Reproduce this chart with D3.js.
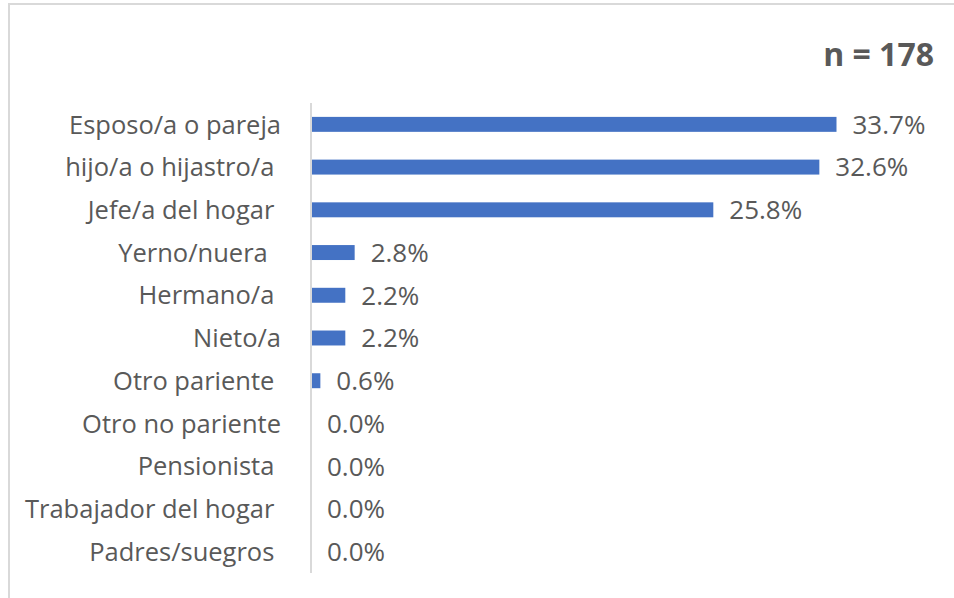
<!DOCTYPE html>
<html>
<head>
<meta charset="utf-8">
<script src="https://cdn.jsdelivr.net/npm/d3@7"></script>
<style>
  body { margin: 0; background: #fff; }
  text { font-family: "Open Sans", Lato, sans-serif; white-space: pre; }
</style>
</head>
<body>
<div id="chart"></div>
<script>
// chart data (trailing spaces kept as they appear in the source labels)
const CATEGORIES = ['Esposo/a o pareja', 'hijo/a o hijastro/a ', 'Jefe/a del hogar ', 'Yerno/nuera  ',
                    'Hermano/a ', 'Nieto/a', 'Otro pariente ', 'Otro no pariente', 'Pensionista ',
                    'Trabajador del hogar ', 'Padres/suegros '];
const VALUES = [33.7, 32.6, 25.8, 2.8, 2.2, 2.2, 0.6, 0.0, 0.0, 0.0, 0.0];
const N_LABEL = 'n = 178';

const FRAME_WIDTH = 954;
const FRAME_HEIGHT = 598;
const MARGINS = {left: 311, right: 100, top: 103, bottom: 25};

const FRAME = d3.select('#chart')
  .append('svg')
    .attr('width', FRAME_WIDTH)
    .attr('height', FRAME_HEIGHT);

// light frame border (top and left only visible)
FRAME.append('line')
  .attr('x1', 8).attr('x2', FRAME_WIDTH).attr('y1', 4).attr('y2', 4)
  .attr('stroke', '#d9d9d9').attr('stroke-width', 2);
FRAME.append('line')
  .attr('x1', 9).attr('x2', 9).attr('y1', 4).attr('y2', FRAME_HEIGHT)
  .attr('stroke', '#d9d9d9').attr('stroke-width', 2);

// scales
const xscale = d3.scaleLinear()
  .domain([0, 33.7])
  .range([MARGINS.left, 836.5]);
const yscale = d3.scaleBand()
  .domain(CATEGORIES)
  .range([MARGINS.top, MARGINS.top + 470])
  .paddingInner(0.65)
  .paddingOuter(0.325);

// bars
FRAME.selectAll('.bar')
  .data(CATEGORIES)
  .enter()
  .append('rect')
    .attr('class', 'bar')
    .attr('x', xscale(0))
    .attr('y', (d) => yscale(d))
    .attr('width', (d, i) => xscale(VALUES[i]) - xscale(0))
    .attr('height', yscale.bandwidth())
    .attr('fill', '#4472c4');

// vertical axis line
FRAME.append('line')
  .attr('x1', xscale(0)).attr('x2', xscale(0))
  .attr('y1', MARGINS.top).attr('y2', MARGINS.top + 470)
  .attr('stroke', '#d9d9d9').attr('stroke-width', 2);

// category labels
FRAME.selectAll('.cat')
  .data(CATEGORIES)
  .enter()
  .append('text')
    .attr('class', 'cat')
    .attr('x', xscale(0) - 30)
    .attr('y', (d) => yscale(d) + yscale.bandwidth() / 2)
    .attr('dy', '0.36em')
    .attr('font-size', '25.5px')
    .attr('text-anchor', 'end')
    .attr('fill', '#595959')
    .text((d) => d);

// value labels
FRAME.selectAll('.val')
  .data(CATEGORIES)
  .enter()
  .append('text')
    .attr('class', 'val')
    .attr('x', (d, i) => xscale(VALUES[i]) + 16)
    .attr('y', (d) => yscale(d) + yscale.bandwidth() / 2)
    .attr('dy', '0.36em')
    .attr('font-size', '26px')
    .attr('fill', '#595959')
    .text((d, i) => VALUES[i].toFixed(1) + '%');

// sample size
FRAME.append('text')
  .attr('x', 934)
  .attr('y', 66)
  .attr('text-anchor', 'end')
  .attr('font-size', '32px')
  .attr('font-weight', 'bold')
  .attr('fill', '#595959')
  .text(N_LABEL);
</script>
</body>
</html>
